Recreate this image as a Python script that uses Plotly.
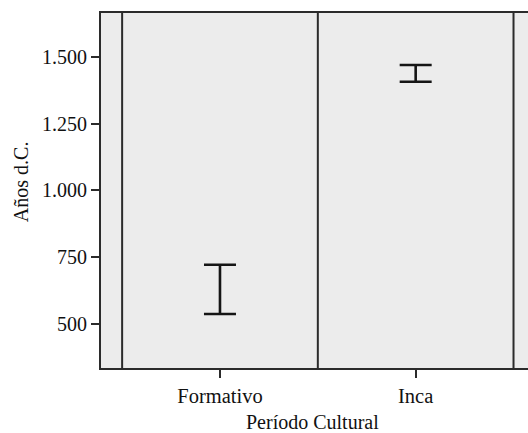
import plotly.graph_objects as go

categories = ["Formativo", "Inca"]
lower = [536, 1407]
upper = [721, 1470]
y_ticks = [500, 750, 1000, 1250, 1500]
y_ticklabels = ["500", "750", "1.000", "1.250", "1.500"]

FONT = "Liberation Serif, Times New Roman, serif"
LINE = "#2b2b2b"

fig = go.Figure()
fig.add_trace(go.Scatter(
    x=categories,
    y=lower,
    mode="markers",
    marker=dict(size=0.1, opacity=0),
    error_y=dict(
        type="data",
        symmetric=False,
        array=[u - l for u, l in zip(upper, lower)],
        arrayminus=[0 for _ in lower],
        width=16,
        thickness=2.6,
        color="#151515",
    ),
    showlegend=False,
    hoverinfo="skip",
))

for xb in [-0.5, 0.5, 1.5]:
    fig.add_shape(type="line", xref="x", yref="paper", x0=xb, x1=xb, y0=0, y1=1,
                  line=dict(color=LINE, width=2))

fig.update_layout(
    width=528, height=433,
    margin=dict(l=101, r=0, t=13, b=65),
    paper_bgcolor="white",
    plot_bgcolor="#ececec",
    font=dict(family=FONT, size=20, color="#111"),
    xaxis=dict(
        type="category",
        categoryorder="array", categoryarray=categories,
        range=[-0.608, 1.574],
        showgrid=False, zeroline=False,
        showline=True, linecolor=LINE, linewidth=2, mirror=True,
        ticks="outside", ticklen=8, tickwidth=2, tickcolor=LINE,
        tickfont=dict(family=FONT, size=20.5),
    ),
    yaxis=dict(
        range=[333.5, 1665],
        tickvals=y_ticks, ticktext=y_ticklabels,
        showgrid=False, zeroline=False,
        showline=True, linecolor=LINE, linewidth=2,
        ticks="outside", ticklen=8, tickwidth=2, tickcolor=LINE,
        tickfont=dict(family=FONT, size=20),
    ),
    annotations=[
        dict(text="Años d.C.", xref="paper", yref="paper", x=-0.187, y=0.524,
             xanchor="center", yanchor="middle", textangle=-90, showarrow=False,
             font=dict(family=FONT, size=20)),
        dict(text="Período Cultural", xref="paper", yref="paper", x=0.495, y=-0.152,
             xanchor="center", yanchor="middle", showarrow=False,
             font=dict(family=FONT, size=20)),
    ],
)

fig.write_html(
    "out.html",
    config={"displayModeBar": False},
    post_script="document.body.style.margin='0';document.body.style.overflow='hidden';",
)
